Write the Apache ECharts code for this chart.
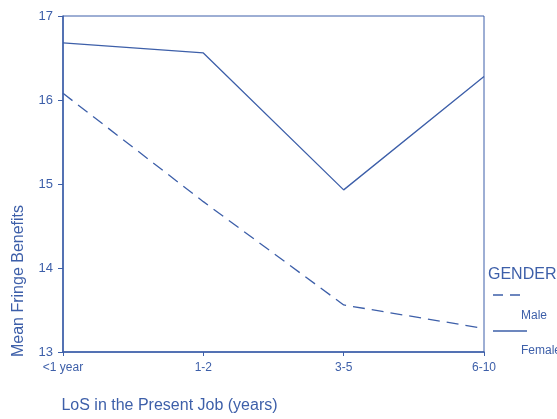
<!DOCTYPE html>
<html><head><meta charset="utf-8">
<script src="https://cdn.jsdelivr.net/npm/echarts@6/dist/echarts.min.js"></script>
<style>html,body{margin:0;padding:0;background:#fff}#c{width:557px;height:419px}</style>
</head><body><div id="c"></div>
<script>
var categories = ['<1 year', '1-2', '3-5', '6-10'];
var maleValues = [16.08, 14.79, 13.56, 13.28];
var femaleValues = [16.68, 16.56, 14.93, 16.28];
var yTicks = [13, 14, 15, 16, 17];

var C = '#3d5fa9';
var F = 'Liberation Sans, Arial, sans-serif';
var chart = echarts.init(document.getElementById('c'));
chart.setOption({
  animation: false,
  textStyle: {fontFamily: F},
  grid: {left: 63, right: 73, top: 16, bottom: 61, show: true, borderColor: C, borderWidth: 1, backgroundColor: 'transparent'},
  xAxis: {
    type: 'category', data: categories, boundaryGap: false,
    axisLine: {lineStyle: {color: C, width: 1.5}},
    axisTick: {alignWithLabel: true, length: 4, lineStyle: {color: C}},
    axisLabel: {color: C, fontSize: 12, margin: 10, interval: 0},
    name: 'LoS in the Present Job (years)', nameLocation: 'middle', nameGap: 46,
    nameTextStyle: {color: C, fontSize: 16, padding: [0, 208, 0, 0]},
    splitLine: {show: false}
  },
  yAxis: {
    type: 'value', min: yTicks[0], max: yTicks[yTicks.length - 1], interval: 1,
    axisLine: {show: true, lineStyle: {color: C, width: 1.5}},
    axisTick: {show: true, length: 5, lineStyle: {color: C}},
    axisLabel: {color: C, fontSize: 13, margin: 10},
    splitLine: {show: false},
    name: 'Mean Fringe Benefits', nameLocation: 'middle', nameGap: 36,
    nameTextStyle: {color: C, fontSize: 16, padding: [0, 194, 0, 0]}
  },
  series: [
    {name: 'Male', type: 'line', data: maleValues, symbol: 'none',
     lineStyle: {color: C, width: 1.3, type: [12, 7]}},
    {name: 'Female', type: 'line', data: femaleValues, symbol: 'none',
     lineStyle: {color: C, width: 1.3}}
  ],
  graphic: [
    {type: 'text', left: 488, top: 267, style: {text: 'GENDER', fill: C, fontSize: 16, fontFamily: F}},
    {type: 'line', shape: {x1: 493, y1: 295, x2: 527, y2: 295}, style: {stroke: C, lineWidth: 1.3, lineDash: [10, 7]}},
    {type: 'text', left: 521, top: 310, style: {text: 'Male', fill: C, fontSize: 12, fontFamily: F}},
    {type: 'line', shape: {x1: 493, y1: 331, x2: 527, y2: 331}, style: {stroke: C, lineWidth: 1.3}},
    {type: 'text', left: 521, top: 345, style: {text: 'Female', fill: C, fontSize: 12, fontFamily: F}}
  ]
});
</script></body></html>
